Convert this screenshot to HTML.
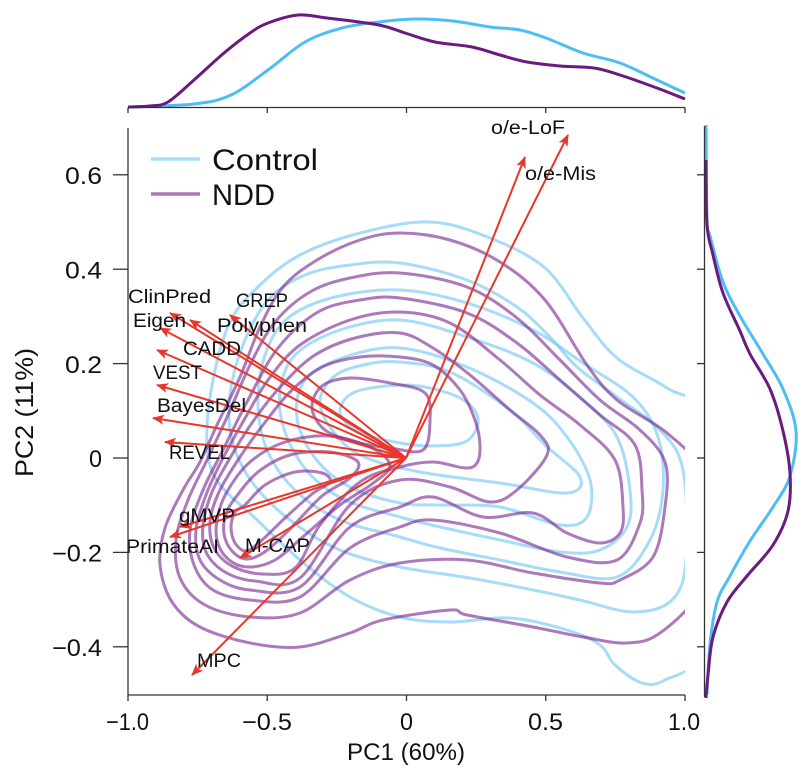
<!DOCTYPE html>
<html><head><meta charset="utf-8"><style>
html,body{margin:0;padding:0;background:#fff;}
svg{display:block;font-family:"Liberation Sans",sans-serif;}
</style></head><body>
<svg id="s" width="804" height="774" viewBox="0 0 804 774" xmlns="http://www.w3.org/2000/svg">
<rect width="804" height="774" fill="#fff"/>
<defs>
<clipPath id="pc"><rect x="128" y="128" width="557" height="567"/></clipPath>
<marker id="ah" viewBox="0 0 12 10" refX="11" refY="5" markerWidth="12" markerHeight="10" markerUnits="userSpaceOnUse" orient="auto">
<path d="M0,0 L12,5 L0,10 L3,5 z" fill="#e8372a"/></marker>
</defs>
<g id="cont" clip-path="url(#pc)" fill="none" stroke-width="3"></g>
<g id="marg" fill="none" stroke-width="3"></g>

<!-- arrows -->
<g stroke="#e8372a" stroke-width="2" fill="none" marker-end="url(#ah)">
<line x1="406" y1="458" x2="568" y2="135"/>
<line x1="406" y1="458" x2="525" y2="157"/>
<line x1="406" y1="458" x2="170" y2="313"/>
<line x1="406" y1="458" x2="190" y2="320"/>
<line x1="406" y1="458" x2="230" y2="315"/>
<line x1="406" y1="458" x2="160" y2="328"/>
<line x1="406" y1="458" x2="157" y2="350"/>
<line x1="406" y1="458" x2="157" y2="385"/>
<line x1="406" y1="458" x2="153" y2="418"/>
<line x1="406" y1="458" x2="165" y2="442"/>
<line x1="406" y1="458" x2="180" y2="527"/>
<line x1="406" y1="458" x2="170" y2="537"/>
<line x1="406" y1="458" x2="240" y2="558"/>
<line x1="406" y1="458" x2="192" y2="675"/>
</g>

<!-- arrow labels -->
<g font-size="19" fill="#111">
<text x="491" y="134" textLength="74" lengthAdjust="spacingAndGlyphs">o/e-LoF</text>
<text x="525" y="180" textLength="71" lengthAdjust="spacingAndGlyphs">o/e-Mis</text>
<text x="128" y="303" textLength="83" lengthAdjust="spacingAndGlyphs">ClinPred</text>
<text x="236" y="307" textLength="52" lengthAdjust="spacingAndGlyphs">GREP</text>
<text x="133" y="327" textLength="53" lengthAdjust="spacingAndGlyphs">Eigen</text>
<text x="217" y="332" textLength="90" lengthAdjust="spacingAndGlyphs">Polyphen</text>
<text x="183" y="355" textLength="58" lengthAdjust="spacingAndGlyphs">CADD</text>
<text x="153" y="379" textLength="49" lengthAdjust="spacingAndGlyphs">VEST</text>
<text x="157" y="412" textLength="89" lengthAdjust="spacingAndGlyphs">BayesDel</text>
<text x="169" y="459" textLength="61" lengthAdjust="spacingAndGlyphs">REVEL</text>
<text x="179" y="522" textLength="56" lengthAdjust="spacingAndGlyphs">gMVP</text>
<text x="126" y="553" textLength="93" lengthAdjust="spacingAndGlyphs">PrimateAI</text>
<text x="245" y="552" textLength="65" lengthAdjust="spacingAndGlyphs">M-CAP</text>
<text x="197" y="667" textLength="44" lengthAdjust="spacingAndGlyphs">MPC</text>
</g>

<!-- axes -->
<g stroke="#333" stroke-width="1.3" fill="none">
<line x1="128" y1="128" x2="128" y2="695"/>
<line x1="128" y1="695" x2="685" y2="695"/>
<line x1="113" y1="174.8" x2="128" y2="174.8"/>
<line x1="113" y1="269.2" x2="128" y2="269.2"/>
<line x1="113" y1="363.6" x2="128" y2="363.6"/>
<line x1="113" y1="458" x2="128" y2="458"/>
<line x1="113" y1="552.4" x2="128" y2="552.4"/>
<line x1="113" y1="646.8" x2="128" y2="646.8"/>
<line x1="128" y1="695" x2="128" y2="701"/>
<line x1="267.25" y1="695" x2="267.25" y2="701"/>
<line x1="406.5" y1="695" x2="406.5" y2="701"/>
<line x1="545.75" y1="695" x2="545.75" y2="701"/>
<line x1="685" y1="695" x2="685" y2="701"/>
<!-- top marginal axis -->
<line x1="128" y1="107.5" x2="685" y2="107.5"/>
<line x1="128" y1="107.5" x2="128" y2="113"/>
<line x1="267.25" y1="107.5" x2="267.25" y2="113"/>
<line x1="406.5" y1="107.5" x2="406.5" y2="113"/>
<line x1="545.75" y1="107.5" x2="545.75" y2="113"/>
<line x1="685" y1="107.5" x2="685" y2="113"/>
<!-- right marginal axis -->
<line x1="704.5" y1="126" x2="704.5" y2="697"/>
<line x1="697" y1="174.8" x2="704.5" y2="174.8"/>
<line x1="697" y1="269.2" x2="704.5" y2="269.2"/>
<line x1="697" y1="363.6" x2="704.5" y2="363.6"/>
<line x1="697" y1="458" x2="704.5" y2="458"/>
<line x1="697" y1="552.4" x2="704.5" y2="552.4"/>
<line x1="697" y1="646.8" x2="704.5" y2="646.8"/>
</g>

<!-- tick labels -->
<g font-size="24" fill="#111">
<text x="102" y="184" text-anchor="end" textLength="37" lengthAdjust="spacingAndGlyphs">0.6</text>
<text x="102" y="278.5" text-anchor="end" textLength="37" lengthAdjust="spacingAndGlyphs">0.4</text>
<text x="102" y="373" text-anchor="end" textLength="37" lengthAdjust="spacingAndGlyphs">0.2</text>
<text x="102" y="467" text-anchor="end" textLength="13" lengthAdjust="spacingAndGlyphs">0</text>
<text x="102" y="561.5" text-anchor="end" textLength="50" lengthAdjust="spacingAndGlyphs">−0.2</text>
<text x="102" y="656" text-anchor="end" textLength="50" lengthAdjust="spacingAndGlyphs">−0.4</text>
<text x="106" y="730" textLength="43" lengthAdjust="spacingAndGlyphs">−1.0</text>
<text x="242" y="730" textLength="50" lengthAdjust="spacingAndGlyphs">−0.5</text>
<text x="400" y="730" textLength="13" lengthAdjust="spacingAndGlyphs">0</text>
<text x="528" y="730" textLength="35" lengthAdjust="spacingAndGlyphs">0.5</text>
<text x="668" y="730" textLength="32" lengthAdjust="spacingAndGlyphs">1.0</text>
</g>
<text x="347" y="760" font-size="24" fill="#111" textLength="118" lengthAdjust="spacingAndGlyphs">PC1 (60%)</text>
<text transform="translate(33,477) rotate(-90)" x="0" y="0" font-size="25" fill="#111" textLength="129" lengthAdjust="spacingAndGlyphs">PC2 (11%)</text>

<!-- legend -->
<line x1="151" y1="159" x2="200" y2="159" stroke="#6cc4f5" stroke-opacity="0.6" stroke-width="3.5"/>
<line x1="151" y1="194" x2="200" y2="194" stroke="#75208c" stroke-opacity="0.6" stroke-width="3.5"/>
<text x="212" y="170" font-size="30" fill="#111" textLength="106" lengthAdjust="spacingAndGlyphs">Control</text>
<text x="212" y="205" font-size="30" fill="#111" textLength="63" lengthAdjust="spacingAndGlyphs">NDD</text>
</svg>
<script>
(function(){
var NS="http://www.w3.org/2000/svg";
function crPath(p,closed){
  var n=p.length,d="M"+p[0][0]+","+p[0][1];
  var last=closed?n:n-1;
  for(var i=0;i<last;i++){
    var p0=closed?p[(i-1+n)%n]:p[Math.max(i-1,0)];
    var p1=p[i%n],p2=p[(i+1)%n];
    var p3=closed?p[(i+2)%n]:p[Math.min(i+2,n-1)];
    var c1x=p1[0]+(p2[0]-p0[0])/6,c1y=p1[1]+(p2[1]-p0[1])/6;
    var c2x=p2[0]-(p3[0]-p1[0])/6,c2y=p2[1]-(p3[1]-p1[1])/6;
    d+="C"+c1x.toFixed(1)+","+c1y.toFixed(1)+" "+c2x.toFixed(1)+","+c2y.toFixed(1)+" "+p2[0]+","+p2[1];
  }
  if(closed)d+="Z";
  return d;
}
function add(g,pts,closed,stroke,op){
  var e=document.createElementNS(NS,"path");
  e.setAttribute("d",crPath(pts,closed));
  e.setAttribute("stroke",stroke);
  if(op)e.setAttribute("stroke-opacity",op);
  g.appendChild(e);
}
var cont=document.getElementById("cont"),marg=document.getElementById("marg");
var B="#6cc4f5",P="#75208c";
var blue=[
[[430,222],[490,238],[545,268],[583,318],[617,358],[667,388],[700,415],[705,530],[700,650],[665,680],[642,683],[615,665],[600,645],[567,630],[510,618],[450,622],[400,617],[350,597],[300,560],[255,518],[218,482],[207,445],[212,385],[230,322],[260,285],[300,255],[360,233]],
[[400,263],[467,280],[517,307],[550,337],[577,367],[617,397],[660,430],[683,470],[686,560],[672,600],[633,612],[580,600],[533,590],[470,578],[400,567],[340,550],[290,520],[252,482],[232,440],[230,395],[243,345],[268,300],[305,275],[350,265]],
[[400,290],[467,303],[533,330],[583,363],[633,397],[658,437],[663,490],[650,540],[617,577],[560,572],[500,560],[440,548],[400,537],[340,520],[297,492],[268,452],[258,405],[265,355],[288,318],[335,297]],
[[400,320],[467,337],[533,363],[583,400],[617,437],[630,490],[627,527],[600,550],[560,552],[500,540],[440,527],[400,517],[345,500],[308,472],[285,432],[280,392],[295,355],[340,330]],
[[400,348],[467,367],[533,403],[567,437],[590,480],[587,517],[560,525],[500,507],[440,505],[400,503],[350,487],[315,458],[297,418],[305,380],[345,357]],
[[400,362],[450,372],[510,410],[545,445],[580,477],[567,493],[500,483],[420,472],[362,456],[332,430],[320,400],[336,375],[368,364]],
[[405,385],[445,392],[470,405],[478,423],[465,442],[430,446],[395,442],[358,432],[340,412],[355,392]]
];
var purple=[
[[400,233],[450,240],[500,262],[545,300],[587,365],[617,400],[667,433],[700,470],[705,530],[700,590],[660,633],[627,643],[583,637],[533,627],[467,615],[450,610],[383,620],[350,633],[300,647],[250,643],[200,627],[172,602],[160,565],[165,528],[183,490],[200,462],[217,425],[240,377],[260,327],[283,287],[317,260],[360,240]],
[[400,273],[467,287],[517,318],[560,360],[600,400],[640,430],[665,462],[665,507],[653,557],[620,580],[600,583],[533,573],[467,560],[400,563],[350,580],[300,613],[250,617],[205,605],[180,578],[176,540],[188,500],[207,460],[228,415],[250,365],[275,322],[310,292],[350,278]],
[[400,298],[467,313],[517,343],[560,380],[600,415],[635,445],[642,490],[640,523],[617,560],[567,557],[500,533],[433,520],[400,527],[350,548],[300,597],[250,600],[213,590],[194,565],[190,530],[203,490],[223,450],[248,400],[278,348],[318,312],[360,300]],
[[400,312],[450,323],[500,360],[540,395],[580,425],[615,460],[623,507],[620,533],[600,543],[567,533],[533,513],[483,517],[433,497],[400,507],[350,527],[300,587],[250,590],[220,580],[200,560],[196,530],[206,495],[222,460],[244,420],[268,380],[300,345],[350,320]],
[[400,333],[433,348],[470,375],[510,410],[540,435],[547,455],[517,490],[490,502],[450,487],[400,480],[350,505],[300,578],[255,581],[225,572],[206,552],[203,525],[212,492],[230,458],[254,420],[282,385],[315,355],[355,338]],
[[400,357],[433,365],[460,390],[475,420],[480,445],[477,463],[465,468],[433,462],[400,467],[360,482],[320,525],[295,568],[262,574],[232,566],[214,548],[210,522],[219,492],[238,460],[263,425],[290,392],[322,367],[360,357]],
[[350,378],[390,383],[425,393],[430,420],[423,450],[390,448],[355,442],[325,430],[312,408],[322,386]],
[[228,490],[250,462],[285,442],[330,436],[372,448],[390,466],[372,484],[340,505],[305,535],[275,560],[248,567],[228,559],[217,540],[218,515]],
[[236,497],[258,472],[290,455],[330,452],[358,462],[350,478],[322,496],[292,527],[266,551],[247,559],[232,551],[224,534],[226,514]],
[[245,505],[265,485],[295,472],[322,473],[330,482],[312,494],[285,518],[261,541],[246,551],[235,543],[231,527],[235,512]]
];
blue.forEach(function(c){add(cont,c,true,B,"0.6");});
purple.forEach(function(c){add(cont,c,true,P,"0.6");});
// marginals
add(marg,[[128,107],[194,104],[231,95],[268,70],[305,42],[342,28],[379,22],[416,19],[453,21],[490,27],[520,30],[546,38],[583,53],[620,63],[657,80],[685,93]],false,"#4dbdf5");
add(marg,[[128,107],[150,106],[168,102],[194,80],[224,53],[250,33],[268,23],[298,15],[327,18],[379,25],[405,33],[435,42],[472,47],[500,55],[527,62],[560,66],[594,68],[620,75],[657,88],[685,99]],false,"#6b1a7e");
add(marg,[[706,125],[707,221],[710,236],[723,282],[740,316],[763,354],[783,389],[796,431],[790,476],[773,507],[750,541],[730,576],[717,602],[710,644],[707,694]],false,"#4dbdf5");
add(marg,[[706,160],[707,224],[713,255],[723,293],[740,331],[750,354],[770,389],[783,431],[790,473],[788,511],[773,545],[747,576],[727,602],[713,637],[708,675],[706,698]],false,"#6b1a7e");
})();
</script>
</body></html>
